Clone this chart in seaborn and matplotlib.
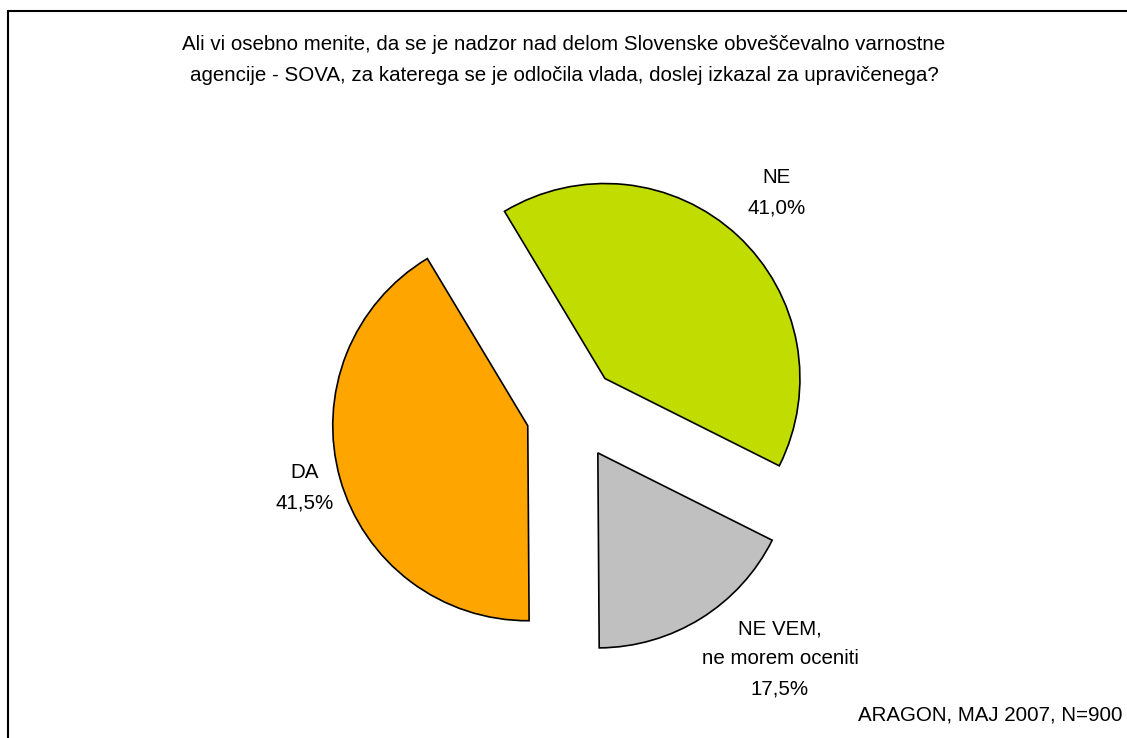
import matplotlib
matplotlib.use("Agg")
import seaborn as sns
from matplotlib import pyplot as plt
from matplotlib.lines import Line2D

labels = ['NE', 'NE VEM,\nne morem oceniti', 'DA']
values = [41.0, 17.5, 41.5]
colors = ['#C0DC00', '#C0C0C0', '#FFA500']
title = ('Ali vi osebno menite, da se je nadzor nad delom Slovenske obveščevalno varnostne\n'
         'agencije - SOVA, za katerega se je odločila vlada, doslej izkazal za upravičenega?')
source = 'ARAGON, MAJ 2007, N=900'

sns.set_theme(style='white')
plt.rcParams['font.family'] = ['Liberation Sans', 'DejaVu Sans']

W, H = 1127, 738
fig = plt.figure(figsize=(W / 100, H / 100), dpi=100)
fig.patch.set_facecolor('white')

# pie centre / radius in pixels, axes in radius units
cx, cy, r = 573, 413, 195
ax = fig.add_axes([0, 0, 1, 1])
ax.pie(values, colors=colors, startangle=121, counterclock=False,
       explode=[0.241] * 3, radius=1,
       wedgeprops=dict(edgecolor='black', linewidth=1.2))
ax.set_xlim(-cx / r, (W - cx) / r)
ax.set_ylim(-(H - cy) / r, cy / r)
ax.set_aspect('auto')
ax.axis('off')


def px(x, y):
    return x / W, 1 - y / H


fs = 14.8
ls = 1.75
fig.text(*px(564, 60), title, ha='center', va='center', fontsize=fs,
         linespacing=ls, color='black')

pct = [f"{v:.1f}".replace('.', ',') + '%' for v in values]
label_pos = [(777, 193), (780, 659), (305, 488)]
for lab, p, (x, y) in zip(labels, pct, label_pos):
    fig.text(*px(x, y), f"{lab}\n{p}", ha='center', va='center', fontsize=fs,
             linespacing=ls, color='black')

fig.text(*px(1122, 715), source, ha='right', va='center', fontsize=fs, color='black')

# outer frame (left and top edges visible)
fig.add_artist(Line2D([8 / W, 8 / W], [0, 1 - 11 / H], transform=fig.transFigure,
                      color='black', lw=1.5))
fig.add_artist(Line2D([8 / W, 1], [1 - 11 / H, 1 - 11 / H], transform=fig.transFigure,
                      color='black', lw=1.5))

fig.savefig('out.png', dpi=100)
